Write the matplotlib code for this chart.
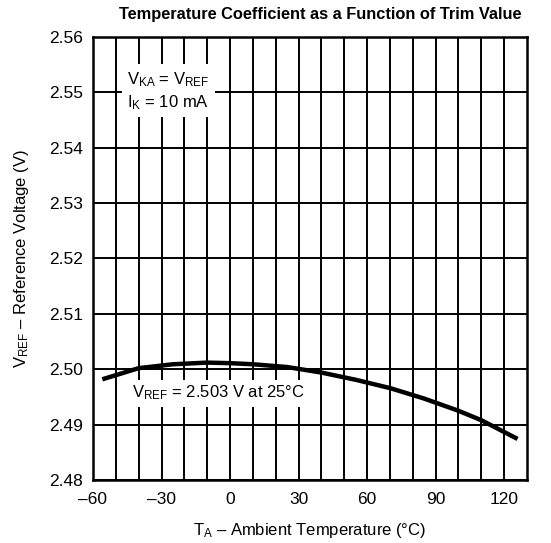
import matplotlib
matplotlib.use("Agg")
import matplotlib.pyplot as plt
from matplotlib import font_manager
import numpy as np

names = {f.name for f in font_manager.fontManager.ttflist}
FONT = 'Liberation Sans Narrow' if 'Liberation Sans Narrow' in names else 'Liberation Sans'
plt.rcParams['font.family'] = [FONT, 'DejaVu Sans']
plt.rcParams['mathtext.fontset'] = 'custom'
plt.rcParams['mathtext.rm'] = FONT
plt.rcParams['mathtext.it'] = FONT
plt.rcParams['mathtext.default'] = 'rm'

temps = [-55, -40, -25, -10, 0, 10, 25, 40, 55, 70, 85, 100, 110, 125]
vref = [2.4983, 2.5002, 2.5009, 2.5012, 2.5011, 2.5009, 2.5004, 2.4994,
        2.4981, 2.4966, 2.4947, 2.4925, 2.4908, 2.4876]
xticks = [-60, -30, 0, 30, 60, 90, 120]
yticks = [2.48, 2.49, 2.50, 2.51, 2.52, 2.53, 2.54, 2.55, 2.56]

FS = 12.5
fig = plt.figure(figsize=(5.51, 5.43), dpi=100)
ax = fig.add_axes([93/551, 1-480/543, (527-93)/551, (480-37)/543])

ax.set_xlim(-60, 130)
ax.set_ylim(2.48, 2.56)
ax.set_xticks(xticks)
ax.set_xticklabels([str(t).replace('-', '\u2013') for t in xticks])
ax.set_xticks(np.arange(-50, 130, 10), minor=True)
ax.set_yticks(yticks)
ax.set_yticklabels([f"{v:.2f}" for v in yticks])
ax.grid(True, which='both', axis='x', color='black', lw=1.4)
ax.grid(True, which='major', axis='y', color='black', lw=1.4)
ax.tick_params(which='both', length=0, labelsize=FS)
ax.tick_params(axis='x', pad=9)
ax.tick_params(axis='y', pad=7)
for s in ax.spines.values():
    s.set_linewidth(1.8)

ax.plot(temps, vref, color='black', lw=3.2, zorder=3)

ax.text(-27, 2.5503, r'$V_{KA}$ = $V_{REF}$' + '\n' + r'$I_K$ = 10 mA',
        ha='center', va='center', fontsize=12, linespacing=1.3, zorder=4,
        bbox=dict(facecolor='white', edgecolor='none', pad=4))
ax.text(-5, 2.4957, r'$V_{REF}$ = 2.503 V at 25°C',
        ha='center', va='center', fontsize=12, zorder=4,
        bbox=dict(facecolor='white', edgecolor='none', pad=3))

ax.set_xlabel(r'$T_A$ – Ambient Temperature (°C)', fontsize=12, labelpad=10)
ax.set_ylabel(r'$V_{REF}$ – Reference Voltage (V)', fontsize=12, labelpad=13)
fig.text(320/551, 1-14/543, 'Temperature Coefficient as a Function of Trim Value',
         ha='center', va='center', fontsize=11.8, fontweight='bold')

fig.savefig('out.png', dpi=100)
